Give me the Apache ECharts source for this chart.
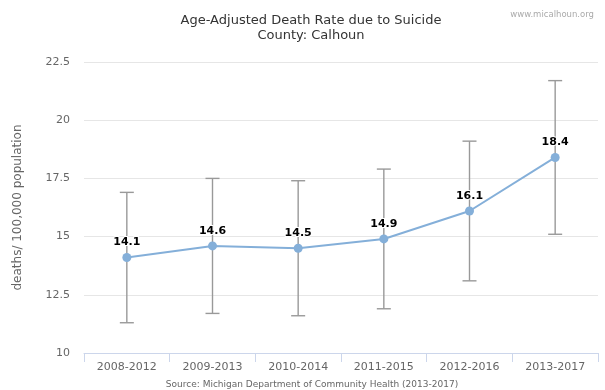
<!DOCTYPE html>
<html>
<head>
<meta charset="utf-8">
<script src="https://cdn.jsdelivr.net/npm/echarts@6/dist/echarts.min.js"></script>
<style>
  html, body { margin: 0; padding: 0; background: #fff; }
  #chart { width: 605px; height: 390px; }
</style>
</head>
<body>
<div id="chart"></div>
<script>
// Five-year windows reported by the county dashboard
const periods = ['2008-2012', '2009-2013', '2010-2014', '2011-2015', '2012-2016', '2013-2017'];
// Age-adjusted suicide death rate per 100,000
const rates = [14.1, 14.6, 14.5, 14.9, 16.1, 18.4];
// 95% confidence interval bounds
const lowerCI = [11.3, 11.7, 11.6, 11.9, 13.1, 15.1];
const upperCI = [16.9, 17.5, 17.4, 17.9, 19.1, 21.7];
// Value axis ticks
const yTicks = [10, 12.5, 15, 17.5, 20, 22.5];

const FONT = '"DejaVu Sans", Verdana, sans-serif';
const chart = echarts.init(document.getElementById('chart'), null, { renderer: 'canvas' });

const ciData = periods.map((p, i) => [i, lowerCI[i], upperCI[i]]);

chart.setOption({
  animation: false,
  backgroundColor: '#ffffff',
  title: [
    {
      text: 'Age-Adjusted Death Rate due to Suicide',
      subtext: 'County: Calhoun',
      left: 306, top: 9, textAlign: 'center',
      itemGap: 2,
      textStyle: { fontFamily: FONT, fontSize: 13, fontWeight: 'normal', color: '#333333' },
      subtextStyle: { fontFamily: FONT, fontSize: 13, color: '#333333' }
    },
    {
      text: 'www.micalhoun.org',
      right: 6, top: 5,
      textStyle: { fontFamily: FONT, fontSize: 8.5, fontWeight: 'normal', color: '#aaaaaa' }
    },
    {
      text: 'Source: Michigan Department of Community Health (2013-2017)',
      left: 307, top: 375, textAlign: 'center',
      textStyle: { fontFamily: FONT, fontSize: 9, fontWeight: 'normal', color: '#666666' }
    }
  ],
  grid: { left: 84, right: 7, top: 62, bottom: 37 },
  xAxis: {
    type: 'category',
    data: periods,
    boundaryGap: true,
    axisLine: { lineStyle: { color: '#ccd6eb', width: 1 } },
    axisTick: { show: true, length: 9, lineStyle: { color: '#ccd6eb' } },
    axisLabel: { fontFamily: FONT, fontSize: 11, color: '#666666', margin: 9 },
    splitLine: { show: false }
  },
  yAxis: {
    type: 'value',
    min: yTicks[0], max: yTicks[yTicks.length - 1], interval: 2.5,
    name: 'deaths/ 100,000 population',
    nameLocation: 'middle',
    nameGap: 60,
    nameTextStyle: { fontFamily: FONT, fontSize: 12, color: '#666666' },
    axisLine: { show: false },
    axisTick: { show: false },
    axisLabel: { fontFamily: FONT, fontSize: 11, color: '#666666', margin: 14 },
    splitLine: { lineStyle: { color: '#e6e6e6', width: 1 } }
  },
  series: [
    {
      name: 'CI',
      type: 'custom',
      z: 1,
      data: ciData,
      encode: { x: 0, y: [1, 2] },
      renderItem: function (params, api) {
        const idx = api.value(0);
        const lo = api.coord([idx, api.value(1)]);
        const hi = api.coord([idx, api.value(2)]);
        const half = 7;
        const style = { stroke: '#999999', lineWidth: 1.4, fill: null };
        return {
          type: 'group',
          children: [
            { type: 'line', shape: { x1: hi[0], y1: hi[1], x2: lo[0], y2: lo[1] }, style: style },
            { type: 'line', shape: { x1: hi[0] - half, y1: hi[1], x2: hi[0] + half, y2: hi[1] }, style: style },
            { type: 'line', shape: { x1: lo[0] - half, y1: lo[1], x2: lo[0] + half, y2: lo[1] }, style: style }
          ]
        };
      }
    },
    {
      name: 'Rate',
      type: 'line',
      z: 3,
      data: rates,
      symbol: 'circle',
      symbolSize: 9,
      lineStyle: { color: '#84afd9', width: 2 },
      itemStyle: { color: '#84afd9' },
      label: {
        show: true,
        position: 'top',
        distance: 5,
        fontFamily: FONT,
        fontSize: 11,
        fontWeight: 'bold',
        color: '#000000',
        textBorderColor: '#ffffff',
        textBorderWidth: 2
      }
    }
  ]
});
</script>
</body>
</html>
